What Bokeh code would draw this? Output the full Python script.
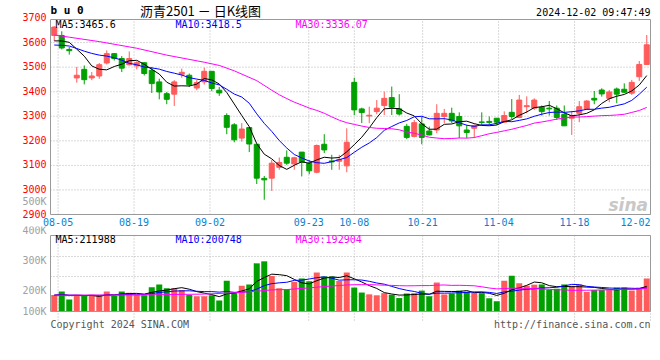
from bokeh.plotting import figure
from bokeh.models import Range1d, ColumnDataSource
from bokeh.layouts import column
from bokeh.embed import file_html
from bokeh.resources import INLINE
from bokeh.core.properties import value

# ---------------- data ----------------
tick_idx = [1, 11, 21, 34, 40, 49, 59, 69, 79]
tick_labels = ["08-05", "08-19", "09-02", "09-23", "10-08", "10-21", "11-04", "11-18", "12-02"]
price_ticks = [2900, 3000, 3100, 3200, 3300, 3400, 3500, 3600, 3700]

open_ = [3629, 3629, 3572, 3456, 3491, 3456, 3464, 3517, 3555, 3535,
         3510, 3505, 3518, 3487, 3440, 3392, 3390, 3471, 3467, 3415,
         3440, 3483, 3406, 3303, 3265, 3211, 3254, 3186, 3047, 3048,
         3092, 3133, 3106, 3154, 3109, 3072, 3186, 3118, 3117, 3098,
         3438, 3330, 3301, 3319, 3344, 3376, 3330, 3259, 3218, 3269,
         3240, 3244, 3299, 3312, 3299, 3244, 3251, 3277, 3279, 3292,
         3276, 3316, 3295, 3339, 3333, 3337, 3333, 3333, 3308, 3292,
         3312, 3329, 3373, 3407, 3373, 3411, 3410, 3394, 3461, 3511]
high = [3667, 3646, 3582, 3501, 3507, 3480, 3517, 3568, 3557, 3545,
        3564, 3524, 3520, 3501, 3453, 3399, 3447, 3494, 3474, 3447,
        3498, 3483, 3419, 3312, 3272, 3272, 3254, 3186, 3057, 3122,
        3132, 3161, 3135, 3154, 3122, 3185, 3227, 3143, 3143, 3251,
        3457, 3335, 3339, 3366, 3400, 3421, 3390, 3269, 3285, 3299,
        3258, 3349, 3330, 3335, 3316, 3265, 3267, 3316, 3299, 3292,
        3320, 3370, 3387, 3381, 3373, 3344, 3362, 3344, 3344, 3322,
        3362, 3366, 3403, 3414, 3407, 3417, 3434, 3448, 3525, 3631]
low = [3607, 3572, 3551, 3437, 3430, 3447, 3453, 3511, 3527, 3480,
       3507, 3491, 3466, 3395, 3369, 3349, 3342, 3457, 3419, 3406,
       3429, 3402, 3383, 3227, 3194, 3197, 3154, 3024, 2960, 2996,
       3082, 3102, 3082, 3055, 3064, 3068, 3150, 3082, 3082, 3072,
       3305, 3272, 3272, 3308, 3305, 3305, 3303, 3207, 3214, 3186,
       3222, 3231, 3272, 3272, 3211, 3211, 3211, 3265, 3265, 3265,
       3272, 3289, 3292, 3312, 3326, 3303, 3303, 3285, 3261, 3224,
       3276, 3326, 3349, 3380, 3357, 3353, 3394, 3387, 3444, 3509]
close = [3663, 3578, 3567, 3467, 3449, 3464, 3510, 3555, 3535, 3496,
         3535, 3518, 3474, 3433, 3399, 3369, 3440, 3479, 3429, 3437,
         3483, 3413, 3395, 3255, 3204, 3248, 3187, 3048, 3041, 3109,
         3112, 3109, 3131, 3113, 3078, 3181, 3163, 3114, 3124, 3194,
         3326, 3315, 3304, 3333, 3373, 3337, 3309, 3214, 3274, 3214,
         3224, 3312, 3312, 3281, 3261, 3234, 3262, 3275, 3275, 3276,
         3303, 3299, 3366, 3343, 3366, 3319, 3330, 3295, 3261, 3303,
         3339, 3362, 3366, 3391, 3399, 3390, 3398, 3438, 3511, 3591]
volume = [138000, 168000, 101000, 134000, 130000, 140000, 130000, 168000, 130000, 168000,
          157000, 137000, 137000, 203000, 227000, 195000, 195000, 180000, 138000, 128000,
          128000, 137000, 92000, 258000, 157000, 216000, 227000, 404000, 421000, 298000,
          195000, 185000, 249000, 277000, 254000, 327000, 294000, 294000, 256000, 327000,
          201000, 159000, 144000, 136000, 154000, 141000, 113000, 151000, 154000, 175000,
          128000, 243000, 143000, 151000, 175000, 166000, 157000, 154000, 111000, 86000,
          258000, 300000, 237000, 216000, 225000, 227000, 181000, 191000, 227000, 215000,
          227000, 164000, 180000, 180000, 180000, 201000, 201000, 176000, 201000, 277000]

# sessions just before the window (estimated from where the MA lines start)
prior_close = [3588, 3597, 3567, 3559, 3554, 3580, 3595, 3605, 3592]
prior_volume = [140000, 132000, 138000, 145000, 130000, 136000, 142000, 128000, 139000]
ma30_early_idx = [0, 2, 6, 11, 15, 20, 22, 24, 27]
ma30_early_val = [3631, 3622, 3604, 3577, 3549, 3520, 3507, 3485, 3445]
vma30_early_idx = [0, 6, 13, 20, 24, 27]
vma30_early_val = [137000, 138000, 140000, 146000, 157000, 170000]

ma_text_main = ["MA5:3465.6", "MA10:3418.5", "MA30:3336.07"]
ma_text_vol = ["MA5:211988", "MA10:200748", "MA30:192904"]
vol_axis_labels = ["500K", "400K", "300K", "200K", "100K"]

# ---------------- derived ----------------
N = len(close)
xs = [(i + 0.5) * (N - 1) / N for i in range(N)]
RED = "#FF5B5B"
GREEN = "#00A000"
colors = [RED if c > o else GREEN for o, c in zip(open_, close)]


def moving(vals, prior, k):
    allv = prior + vals
    off = len(prior)
    return [sum(allv[off + i - k + 1: off + i + 1]) / k for i in range(len(vals))]


ma5 = moving(close, prior_close, 5)
ma10 = moving(close, prior_close, 10)
ma30_x = [(i + 0.5) * (N - 1) / N for i in ma30_early_idx] + xs[29:]
ma30 = ma30_early_val + [sum(close[i - 29:i + 1]) / 30 for i in range(29, N)]
vma5 = moving(volume, prior_volume, 5)
vma10 = moving(volume, prior_volume, 10)
vma30_x = [(i + 0.5) * (N - 1) / N for i in vma30_early_idx] + xs[29:]
vma30 = vma30_early_val + [sum(volume[i - 29:i + 1]) / 30 for i in range(29, N)]

src = ColumnDataSource(dict(
    x=xs, o=open_, h=high, l=low, c=close,
    top=[max(a, b) for a, b in zip(open_, close)],
    bot=[min(a, b) for a, b in zip(open_, close)],
    color=colors, vol=volume))

# ---------------- layout constants (window pixels) ----------------
W, H = 660, 360
FR_L, FR_R = 50, 650
M_TOP, M_BOT, M_H = 19, 214, 226
V_TOP, V_BOT = 235, 311
P_TOP, P_BOT = 3694, 2900
V_MAX = 637600
MONO = "DejaVu Sans Mono"
GRID = "#b4b4b4"
FRAME = "#9a9a9a"


def ux(px):
    return (px - FR_L) * (N - 1) / (FR_R - FR_L)


def my(py):
    return P_TOP - (py - M_TOP) * (P_TOP - P_BOT) / (M_BOT - M_TOP)


def vy(py):
    return V_MAX * (V_BOT - py) / (V_BOT - V_TOP)


def txt(fig, x, y, s, color, size="10px", align="left", font=MONO, style="normal", yoff=0):
    n = len(s)
    fig.text(x=x, y=y, text=s, text_color=color, text_font=value(font),
             text_font_size=value(size), text_align=align if isinstance(align, str) else align,
             text_baseline="middle", text_font_style=style, y_offset=yoff)


def bare(fig):
    fig.outline_line_color = None
    fig.grid.visible = False
    fig.background_fill_color = "white"
    fig.border_fill_color = "white"


# ---------------- main (price) panel ----------------
p = figure(width=W, height=M_H, x_range=Range1d(ux(0), ux(W)), y_range=Range1d(my(M_H), my(0)),
           output_backend="svg", toolbar_location=None, tools="",
           x_axis_location=None, y_axis_location=None, min_border=0)
bare(p)

in_ticks = [t for t in price_ticks if P_BOT < t < P_TOP]
p.segment(x0=[0] * len(in_ticks), x1=[N - 1] * len(in_ticks), y0=in_ticks, y1=in_ticks,
          line_color=GRID, line_dash="1 2", line_width=1)
p.segment(x0=tick_idx, x1=tick_idx, y0=[P_BOT] * len(tick_idx), y1=[P_TOP] * len(tick_idx),
          line_color=GRID, line_dash="1 2", line_width=1)

p.segment(x0="x", y0="l", x1="x", y1="h", line_color="color", line_width=1, source=src)
p.vbar(x="x", width=0.66, top="top", bottom="bot", fill_color="color",
       line_color="color", line_width=1, source=src)
p.line(xs, ma5, line_color="black", line_width=1)
p.line(xs, ma10, line_color="#0000FF", line_width=1)
p.line(ma30_x, ma30, line_color="#FF00FF", line_width=1)

p.quad(left=[0], right=[N - 1], bottom=[P_BOT], top=[P_TOP], fill_color=None,
       line_color=FRAME, line_width=1)

# price tick labels
txt(p, [ux(46)] * len(price_ticks), price_ticks, [str(t) for t in price_ticks], "#FF0000",
    align="right", yoff=-1)
# date tick labels
aligns = ["center"] * (len(tick_idx) - 1) + ["right"]
p.text(x=tick_idx, y=[my(221)] * len(tick_idx), text=tick_labels, text_color="#0A7FD0",
       text_font=value(MONO), text_font_size=value("10px"), text_align=aligns,
       text_baseline="middle")

txt(p, [ux(50)], [my(10)], ["b u 0"], "black", size="11px", style="bold")
txt(p, [ux(200)], [my(9.5)], ["沥青2501 － 日K线图"], "black", size="13px", align="center",
    font="Noto Sans CJK SC")
txt(p, [ux(650)], [my(12)], ["2024-12-02 09:47:49"], "black", align="right")
txt(p, [ux(55), ux(175), ux(295)], [my(24)] * 3, ma_text_main, ["black", "#0000FF", "#FF00FF"])
txt(p, [ux(46)], [my(200.5)], [vol_axis_labels[0]], "#A0A0A0", align="right")
txt(p, [ux(608)], [my(204)], ["sina"], "#C8C8C8", size="17px", font="DejaVu Sans",
    style="bold italic")

# ---------------- volume panel ----------------
V_H = H - M_H
pv = figure(width=W, height=V_H, x_range=p.x_range, y_range=Range1d(vy(H), vy(M_H)),
            output_backend="svg", toolbar_location=None, tools="",
            x_axis_location=None, y_axis_location=None, min_border=0)
bare(pv)

vgrid = [vy(256), vy(276), vy(296)]
pv.segment(x0=[0] * 3, x1=[N - 1] * 3, y0=vgrid, y1=vgrid,
           line_color=GRID, line_dash="1 2", line_width=1)
pv.segment(x0=tick_idx, x1=tick_idx, y0=[vy(320)] * len(tick_idx), y1=[V_MAX] * len(tick_idx),
           line_color=GRID, line_dash="1 2", line_width=1)

pv.vbar(x="x", width=0.79, top="vol", bottom=0, fill_color="color", line_color=None, source=src)
pv.line(xs, vma5, line_color="black", line_width=1)
pv.line(xs, vma10, line_color="#0000FF", line_width=1)
pv.line(vma30_x, vma30, line_color="#FF00FF", line_width=1)

pv.quad(left=[0], right=[N - 1], bottom=[0], top=[V_MAX], fill_color=None,
        line_color=FRAME, line_width=1)

txt(pv, [ux(46)] * 4, [vy(230), vy(260), vy(290), vy(310.5)], vol_axis_labels[1:], "#A0A0A0",
    align="right")
txt(pv, [ux(55), ux(175), ux(295)], [vy(238.5)] * 3, ma_text_vol, ["black", "#0000FF", "#FF00FF"])
txt(pv, [ux(50)], [vy(323.5)], ["Copyright 2024 SINA.COM"], "#555555")
txt(pv, [ux(650)], [vy(323.5)], ["http://finance.sina.com.cn"], "#555555", align="right")

layout = column(p, pv, spacing=0)
open("out.html", "w").write(file_html(layout, INLINE))
